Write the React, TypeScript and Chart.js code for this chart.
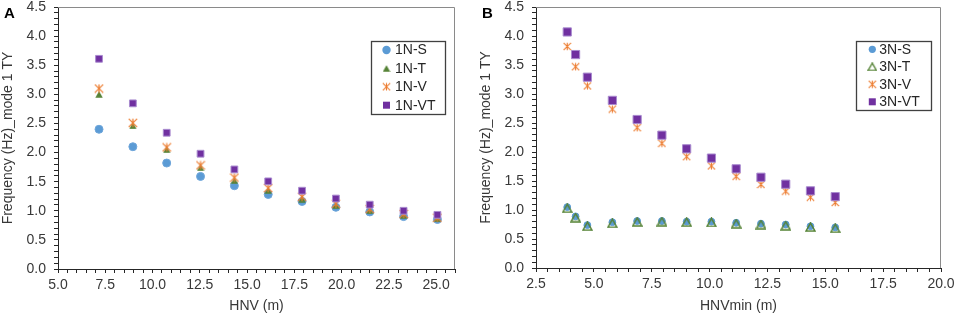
import { useEffect, useRef } from 'react';
import { Chart, registerables } from 'chart.js';

Chart.register(...registerables);

const FONT = "'Liberation Sans', Arial, Helvetica, sans-serif";
const TEXT = '#383838';
const AXIS = '#262626';

// ---- Panel A data ----
const xA = [7.17, 8.96, 10.75, 12.54, 14.33, 16.12, 17.91, 19.7, 21.49, 23.28, 25.07];
const s1NS = [2.4, 2.1, 1.82, 1.59, 1.43, 1.28, 1.16, 1.06, 0.98, 0.9, 0.85];
const s1NT = [3.0, 2.46, 2.05, 1.74, 1.52, 1.35, 1.2, 1.09, 1.0, 0.92, 0.86];
const s1NV = [3.1, 2.51, 2.09, 1.78, 1.57, 1.39, 1.24, 1.12, 1.03, 0.945, 0.88];
const s1NVT = [3.61, 2.845, 2.34, 1.98, 1.71, 1.505, 1.345, 1.21, 1.105, 1.0, 0.93];

// ---- Panel B data ----
const xB = [3.85, 4.21, 4.72, 5.8, 6.87, 7.94, 9.01, 10.08, 11.15, 12.22, 13.29, 14.36, 15.43];
const s3NS = [1.05, 0.89, 0.74, 0.79, 0.81, 0.81, 0.8, 0.8, 0.78, 0.765, 0.75, 0.72, 0.7];
const s3NT = [1.03, 0.87, 0.72, 0.77, 0.795, 0.8, 0.79, 0.785, 0.765, 0.75, 0.73, 0.705, 0.685];
const s3NV = [3.82, 3.47, 3.14, 2.74, 2.42, 2.15, 1.92, 1.76, 1.58, 1.44, 1.325, 1.22, 1.13];
const s3NVT = [4.07, 3.68, 3.29, 2.89, 2.56, 2.29, 2.055, 1.895, 1.71, 1.565, 1.445, 1.33, 1.23];

// ---- tick labels ----
const xTickLabelsA = [5.0, 7.5, 10.0, 12.5, 15.0, 17.5, 20.0, 22.5, 25.0];
const xTickLabelsB = [2.5, 5.0, 7.5, 10.0, 12.5, 15.0, 17.5, 20.0];
const yTickLabels = [0.0, 0.5, 1.0, 1.5, 2.0, 2.5, 3.0, 3.5, 4.0, 4.5];

const BLUE = '#5B9BD5';
const GREEN = '#548235';
const ORANGE = '#ED7D31';
const PURPLE = '#7030A0';
const PURPLE_EDGE = '#A98BCF';

function makeStar(size: number, lw: number) {
  const c = document.createElement('canvas');
  c.width = size;
  c.height = size;
  const ctx = c.getContext('2d')!;
  ctx.strokeStyle = ORANGE;
  ctx.lineWidth = lw;
  const p = 0.8;
  ctx.beginPath();
  ctx.moveTo(p, p);
  ctx.lineTo(size - p, size - p);
  ctx.moveTo(size - p, p);
  ctx.lineTo(p, size - p);
  ctx.moveTo(size / 2, p);
  ctx.lineTo(size / 2, size - p);
  ctx.stroke();
  return c;
}

function makeTriangle(w: number, h: number, filled: boolean, lw: number) {
  const c = document.createElement('canvas');
  c.width = w;
  c.height = h;
  const ctx = c.getContext('2d')!;
  const p = filled ? 0.3 : lw / 2 + 0.2;
  ctx.beginPath();
  ctx.moveTo(w / 2, p);
  ctx.lineTo(w - p, h - p);
  ctx.lineTo(p, h - p);
  ctx.closePath();
  if (filled) {
    ctx.fillStyle = GREEN;
    ctx.fill();
  } else {
    ctx.strokeStyle = GREEN;
    ctx.lineWidth = lw;
    ctx.stroke();
  }
  return c;
}

type Marker =
  | { kind: 'circle'; r: number }
  | { kind: 'square'; side: number }
  | { kind: 'image'; img: HTMLCanvasElement };

function drawMarker(ctx: CanvasRenderingContext2D, m: Marker, x: number, y: number) {
  ctx.save();
  if (m.kind === 'circle') {
    ctx.fillStyle = BLUE;
    ctx.beginPath();
    ctx.arc(x, y, m.r, 0, Math.PI * 2);
    ctx.fill();
  } else if (m.kind === 'square') {
    ctx.fillStyle = PURPLE;
    ctx.fillRect(x - m.side / 2, y - m.side / 2, m.side, m.side);
  } else {
    ctx.drawImage(m.img, x - m.img.width / 2, y - m.img.height / 2);
  }
  ctx.restore();
}

function legendPlugin(cfg: {
  box: [number, number, number, number];
  y0: number;
  gap: number;
  markerX: number;
  textX: number;
  items: { label: string; marker: Marker }[];
}) {
  return {
    id: 'boxLegend',
    afterDatasetsDraw(chart: any) {
      const ctx: CanvasRenderingContext2D = chart.ctx;
      ctx.save();
      const [bx, by, bw, bh] = cfg.box;
      ctx.fillStyle = '#ffffff';
      ctx.fillRect(bx, by, bw, bh);
      ctx.strokeStyle = '#404040';
      ctx.lineWidth = 1.3;
      ctx.strokeRect(bx + 0.5, by + 0.5, bw, bh);
      cfg.items.forEach((it, i) => {
        const y = cfg.y0 + i * cfg.gap;
        drawMarker(ctx, it.marker, cfg.markerX, y);
        ctx.fillStyle = '#262626';
        ctx.font = `14px ${FONT}`;
        ctx.textAlign = 'left';
        ctx.textBaseline = 'middle';
        ctx.fillText(it.label, cfg.textX, y + 0.5);
      });
      ctx.restore();
    },
  };
}

const framePlugin = {
  id: 'frame',
  beforeDatasetsDraw(chart: any) {
    const { left, top, right, bottom } = chart.chartArea;
    const ctx: CanvasRenderingContext2D = chart.ctx;
    ctx.save();
    ctx.strokeStyle = '#8a8a8a';
    ctx.lineWidth = 1;
    ctx.beginPath();
    ctx.moveTo(left, Math.round(top) + 0.5);
    ctx.lineTo(Math.round(right) - 0.5, Math.round(top) + 0.5);
    ctx.lineTo(Math.round(right) - 0.5, bottom);
    ctx.stroke();
    ctx.restore();
  },
};

function isLabeled(v: number, list: number[]) {
  return list.some((t) => Math.abs(t - v) < 1e-6);
}

function makeOptions(p: {
  xmin: number;
  xmax: number;
  xLabels: number[];
  xTitle: string;
  padRight: number;
  xHeight: number;
}) {
  const tickFont = { family: FONT, size: 14, lineHeight: 1 };
  return {
    animation: false as const,
    responsive: false,
    devicePixelRatio: 1,
    layout: { padding: { left: 0, right: p.padRight, top: 7, bottom: 0 } },
    plugins: { legend: { display: false }, tooltip: { enabled: false } },
    scales: {
      x: {
        type: 'linear' as const,
        min: p.xmin,
        max: p.xmax,
        border: { display: true, color: AXIS, width: 1 },
        grid: { display: true, drawOnChartArea: false, drawTicks: true, tickLength: 4, color: AXIS, lineWidth: 1 },
        ticks: {
          stepSize: 0.5,
          autoSkip: false,
          maxRotation: 0,
          minRotation: 0,
          padding: 5,
          color: TEXT,
          font: tickFont,
          callback: (v: any) => (isLabeled(Number(v), p.xLabels) ? Number(v).toFixed(1) : ''),
        },
        title: {
          display: true,
          text: p.xTitle,
          color: TEXT,
          font: { family: FONT, size: 14 },
          padding: { top: 0, bottom: 1 },
        },
        afterFit: (s: any) => {
          s.height = p.xHeight;
          s.paddingLeft = 0;
          s.paddingRight = 0;
        },
      },
      y: {
        type: 'linear' as const,
        min: 0,
        max: 4.5,
        border: { display: true, color: AXIS, width: 1 },
        grid: { display: true, drawOnChartArea: false, drawTicks: true, tickLength: 4, color: AXIS, lineWidth: 1 },
        ticks: {
          stepSize: 0.1,
          autoSkip: false,
          padding: 8,
          color: TEXT,
          font: tickFont,
          callback: (v: any) => (isLabeled(Number(v), yTickLabels) ? Number(v).toFixed(1) : ''),
        },
        title: {
          display: true,
          text: 'Frequency (Hz)_mode 1 TY',
          color: TEXT,
          font: { family: FONT, size: 14 },
          padding: { top: 0, bottom: 0 },
        },
        afterFit: (s: any) => {
          s.width = 58;
          s.paddingTop = 0;
          s.paddingBottom = 0;
        },
      },
    },
  };
}

function pts(xs: number[], ys: number[]) {
  return xs.map((x, i) => ({ x, y: ys[i] }));
}

export default function App() {
  const refA = useRef<HTMLCanvasElement>(null);
  const refB = useRef<HTMLCanvasElement>(null);

  useEffect(() => {
    document.body.style.margin = '0';
    const starA = makeStar(10, 1.2);
    const starB = makeStar(9, 1.1);
    const triA = makeTriangle(8, 7, true, 0);
    const triB = makeTriangle(11, 10, false, 1.5);
    const triLegA = makeTriangle(8, 7, true, 0);
    const triLegB = makeTriangle(10, 9, false, 1.3);

    const chartA = new Chart(refA.current!, {
      type: 'scatter',
      data: {
        datasets: [
          { label: '1N-VT', data: pts(xA, s1NVT), pointStyle: 'rect', pointRadius: 4.8, pointBackgroundColor: PURPLE, pointBorderColor: PURPLE_EDGE, pointBorderWidth: 1, order: 1 },
          { label: '1N-V', data: pts(xA, s1NV), pointStyle: starA, pointRadius: 5, order: 2 },
          { label: '1N-T', data: pts(xA, s1NT), pointStyle: triA, pointRadius: 4, order: 3 },
          { label: '1N-S', data: pts(xA, s1NS), pointStyle: 'circle', pointRadius: 4, pointBackgroundColor: BLUE, pointBorderColor: '#6FA6DA', pointBorderWidth: 1, order: 4 },
        ] as any,
      },
      options: makeOptions({ xmin: 5, xmax: 26, xLabels: xTickLabelsA, xTitle: 'HNV (m)', padRight: 23, xHeight: 47 }) as any,
      plugins: [
        framePlugin,
        legendPlugin({
          box: [371, 41, 74, 73],
          y0: 50,
          gap: 18.4,
          markerX: 386.5,
          textX: 395,
          items: [
            { label: '1N-S', marker: { kind: 'circle', r: 4.2 } },
            { label: '1N-T', marker: { kind: 'image', img: triLegA } },
            { label: '1N-V', marker: { kind: 'image', img: starB } },
            { label: '1N-VT', marker: { kind: 'square', side: 7 } },
          ],
        }),
      ] as any,
    });

    const chartB = new Chart(refB.current!, {
      type: 'scatter',
      data: {
        datasets: [
          { label: '3N-VT', data: pts(xB, s3NVT), pointStyle: 'rect', pointRadius: 5.8, pointBackgroundColor: PURPLE, pointBorderColor: PURPLE_EDGE, pointBorderWidth: 1, order: 1 },
          { label: '3N-V', data: pts(xB, s3NV), pointStyle: starB, pointRadius: 5, order: 2 },
          { label: '3N-T', data: pts(xB, s3NT), pointStyle: triB, pointRadius: 5, order: 3 },
          { label: '3N-S', data: pts(xB, s3NS), pointStyle: 'circle', pointRadius: 3.4, pointBackgroundColor: BLUE, pointBorderColor: BLUE, pointBorderWidth: 1, order: 4 },
        ] as any,
      },
      options: makeOptions({ xmin: 2.5, xmax: 20, xLabels: xTickLabelsB, xTitle: 'HNVmin (m)', padRight: 16, xHeight: 48 }) as any,
      plugins: [
        framePlugin,
        legendPlugin({
          box: [378, 41, 75, 69],
          y0: 49.3,
          gap: 17.5,
          markerX: 394.3,
          textX: 401.3,
          items: [
            { label: '3N-S', marker: { kind: 'circle', r: 3.6 } },
            { label: '3N-T', marker: { kind: 'image', img: triLegB } },
            { label: '3N-V', marker: { kind: 'image', img: starB } },
            { label: '3N-VT', marker: { kind: 'square', side: 7 } },
          ],
        }),
      ] as any,
    });

    return () => {
      chartA.destroy();
      chartB.destroy();
    };
  }, []);

  const panelLabel: React.CSSProperties = {
    position: 'absolute',
    top: 5,
    font: `bold 15px ${FONT}`,
    lineHeight: '15px',
    color: '#000',
  };

  return (
    <div style={{ position: 'relative', width: 957, height: 316, background: '#fff', fontFamily: FONT }}>
      <canvas ref={refA} width={478} height={316} style={{ position: 'absolute', left: 0, top: 0, display: 'block' }} />
      <canvas ref={refB} width={479} height={316} style={{ position: 'absolute', left: 478, top: 0, display: 'block' }} />
      <div style={{ ...panelLabel, left: 4 }}>A</div>
      <div style={{ ...panelLabel, left: 482 }}>B</div>
    </div>
  );
}
